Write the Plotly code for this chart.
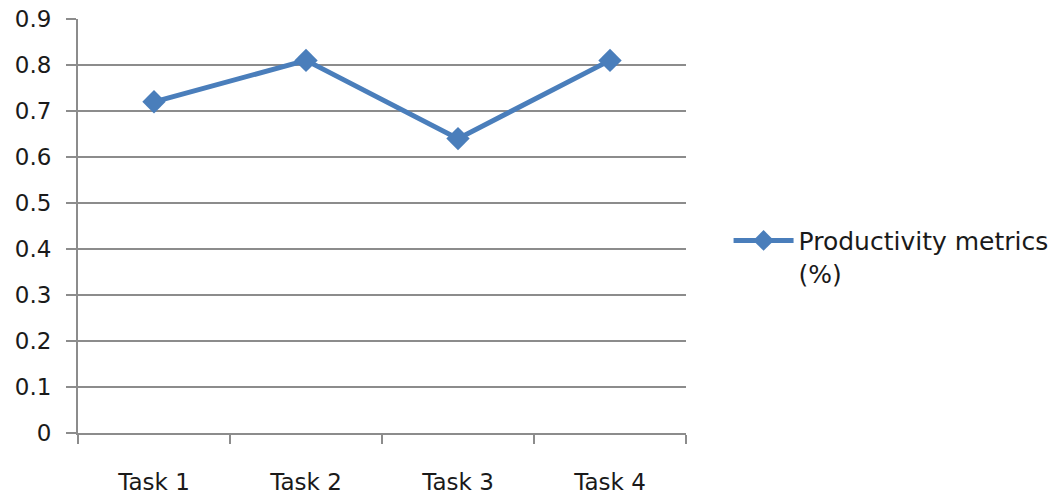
import plotly.graph_objects as go

categories = ["Task 1", "Task 2", "Task 3", "Task 4"]
values = [0.72, 0.81, 0.64, 0.81]
series_name = "Productivity metrics<br>(%)"
y_ticks = [0, 0.1, 0.2, 0.3, 0.4, 0.5, 0.6, 0.7, 0.8, 0.9]
y_labels = ["0", "0.1", "0.2", "0.3", "0.4", "0.5", "0.6", "0.7", "0.8", "0.9"]

BLUE = "#4a7ebb"
GRID = "#8c8c8c"
TICKFONT = dict(family="DejaVu Sans, sans-serif", size=23, color="#1a1a1a")
LEGFONT = dict(family="DejaVu Sans, sans-serif", size=25, color="#1a1a1a")

fig = go.Figure()
fig.add_trace(go.Scatter(
    x=categories, y=values, name=series_name,
    mode="lines+markers",
    line=dict(color=BLUE, width=5),
    marker=dict(symbol="diamond", size=18, color=BLUE),
    showlegend=True,
))

fig.update_layout(
    width=1053, height=495,
    margin=dict(l=78, r=367, t=19, b=62, autoexpand=False),
    paper_bgcolor="white", plot_bgcolor="white",
    font=TICKFONT,
    showlegend=True,
    legend=dict(x=1.07, y=0.52, xanchor="left", yanchor="top",
                valign="top", font=LEGFONT, bgcolor="rgba(0,0,0,0)",
                itemwidth=60, tracegroupgap=0),
    xaxis=dict(
        type="category", range=[-0.5, 3.5], automargin=False,
        showgrid=False, showline=True, linecolor=GRID, linewidth=2,
        ticks="outside", tickson="boundaries", ticklen=9, tickwidth=2, tickcolor=GRID,
        ticklabelstandoff=27, tickfont=TICKFONT, zeroline=False,
    ),
    yaxis=dict(
        range=[0, 0.9], tickvals=y_ticks, ticktext=y_labels, automargin=False,
        showgrid=True, gridcolor=GRID, gridwidth=2,
        showline=True, linecolor=GRID, linewidth=2,
        ticks="outside", ticklen=10, tickwidth=2, tickcolor=GRID,
        ticklabelstandoff=10, tickfont=TICKFONT, zeroline=False,
    ),
)

fig.write_html("out.html")
